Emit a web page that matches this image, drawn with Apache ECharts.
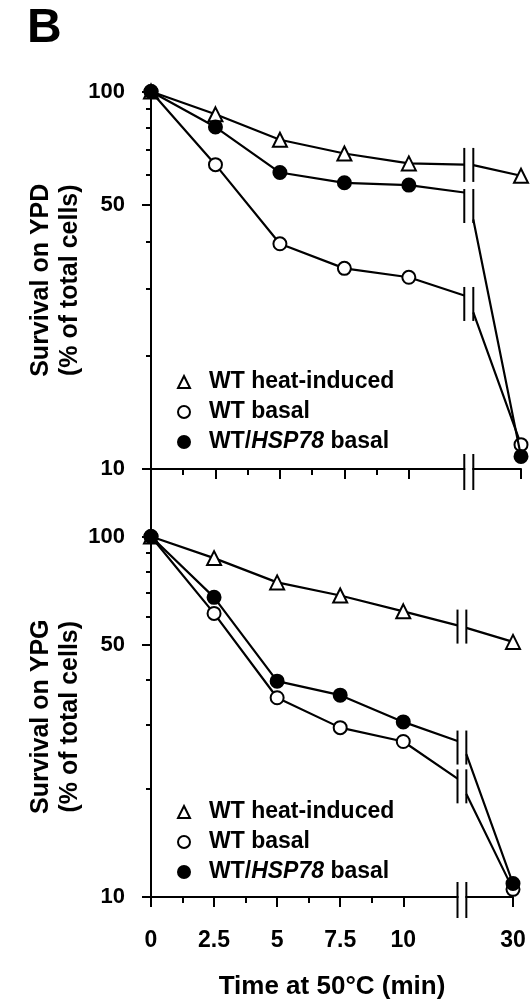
<!DOCTYPE html>
<html>
<head>
<meta charset="utf-8">
<script src="https://cdn.jsdelivr.net/npm/echarts@6/dist/echarts.min.js"></script>
<style>
  html, body { margin: 0; padding: 0; background: #fff; }
  #chart { width: 530px; height: 1006px; }
</style>
</head>
<body>
<div id="chart"></div>
<script>
// x ticks: real minutes and where they sit on the (broken) axis
const timeLabels = ["0", "2.5", "5", "7.5", "10", "30"];
const timePos = [0, 2.5, 5, 7.5, 10, 14.35];
const minorTimePos = [1.25, 3.75, 6.25, 8.75];
const breakLeft = 12.15;
const breakRight = 12.5;

const yLabelValues = [10, 50, 100];
const yMinorValues = [20, 30, 40, 60, 70, 80, 90];

const seriesNames = ["WT heat-induced", "WT basal", "WT/HSP78 basal"];

// survival (%) at 0, 2.5, 5, 7.5, 10, 30 min, plus line ends either side of the break
const ypdHeat = [100, 87, 74.5, 68.5, 64.5, 59.8];
const ypdHeatBreak = [64, 63.8];
const ypdBasal = [100, 64, 39.5, 34, 32.2, 11.6];
const ypdBasalBreak = [28.8, 26];
const ypdHsp = [100, 80.5, 61, 57.3, 56.5, 10.8];
const ypdHspBreak = [54, 45.8];

const ypgHeat = [100, 87.1, 74.6, 68.6, 62.0, 51.0];
const ypgHeatBreak = [56.7, 55.8];
const ypgBasal = [100, 61.2, 35.7, 29.5, 27.0, 10.5];
const ypgBasalBreak = [21.3, 19.3];
const ypgHsp = [100, 67.8, 39.7, 36.3, 30.6, 10.9];
const ypgHspBreak = [27.1, 24.9];

const FONT = "'Liberation Sans', Arial, sans-serif";

function lineData(vals, brk) {
  const out = [];
  for (let i = 0; i < 5; i++) out.push([timePos[i], vals[i]]);
  out.push({ value: [breakLeft, brk[0]], symbol: "none" });
  out.push([(breakLeft + breakRight) / 2, "-"]);
  out.push({ value: [breakRight, brk[1]], symbol: "none" });
  out.push([timePos[5], vals[5]]);
  return out;
}

const styles = [
  { symbol: "triangle", fill: "#fff", size: 14 },
  { symbol: "circle", fill: "#fff", size: 13 },
  { symbol: "circle", fill: "#000", size: 13 },
];

function makeSeries(gi, sets) {
  const list = sets.map((s, k) => ({
    name: seriesNames[k],
    type: "line",
    xAxisIndex: gi * 2,
    yAxisIndex: gi * 2,
    data: lineData(s[0], s[1]),
    symbol: styles[k].symbol,
    symbolSize: styles[k].size,
    clip: false,
    z: 3 + k,
    lineStyle: { color: "#000", width: 2.2 },
    itemStyle: { color: styles[k].fill, borderColor: "#000", borderWidth: 2 },
    emphasis: { disabled: true },
    animation: false,
  }));
  // break marks "||" for every line plus the x axis
  const breaks = sets.map((s) => [breakLeft, s[1][0], breakRight, s[1][1], 0]);
  breaks.push([breakLeft, 10, breakRight, 10, 1]);
  list.push({
    type: "custom",
    xAxisIndex: gi * 2,
    yAxisIndex: gi * 2,
    encode: { x: [0, 2], y: [1, 3] },
    data: breaks,
    z: 10,
    silent: true,
    animation: false,
    renderItem: function (params, api) {
      const pL = api.coord([api.value(0), api.value(1)]);
      const pR = api.coord([api.value(2), api.value(3)]);
      const isAxis = api.value(4) === 1;
      const cy = (pL[1] + pR[1]) / 2 + (isAxis ? 3 : 0);
      const half = isAxis ? 18 : 17;
      const children = [];
      if (isAxis) {
        children.push({
          type: "rect",
          shape: { x: pL[0] + 1, y: cy - 8, width: pR[0] - pL[0] - 2, height: 10 },
          style: { fill: "#fff" },
        });
      }
      [pL[0], pR[0]].forEach((x) => {
        children.push({
          type: "line",
          shape: { x1: x, y1: cy - half, x2: x, y2: cy + half },
          style: { stroke: "#000", lineWidth: 2 },
        });
      });
      return { type: "group", children: children };
    },
  });
  return list;
}

function xAxes(gi, withLabels) {
  return [
    {
      type: "value",
      gridIndex: gi,
      position: "bottom",
      min: 0,
      max: timePos[5],
      axisLine: { lineStyle: { color: "#000", width: 2 } },
      axisTick: { customValues: timePos, length: 10, lineStyle: { color: "#000", width: 2 } },
      axisLabel: {
        show: withLabels,
        customValues: timePos,
        margin: 32,
        color: "#000",
        fontFamily: FONT,
        fontWeight: "bold",
        fontSize: 23,
        formatter: (v) => {
          const i = timePos.findIndex((p) => Math.abs(p - v) < 1e-6);
          return i >= 0 ? timeLabels[i] : "";
        },
      },
      splitLine: { show: false },
      name: withLabels ? "Time at 50°C (min)" : "",
      nameLocation: "middle",
      nameGap: 77,
      nameMoveOverlap: false,
      nameTextStyle: { color: "#000", fontFamily: FONT, fontWeight: "bold", fontSize: 26 },
    },
    {
      type: "value",
      gridIndex: gi,
      position: "bottom",
      min: 0,
      max: timePos[5],
      axisLine: { show: false },
      axisTick: { customValues: minorTimePos, length: 6, lineStyle: { color: "#000", width: 2 } },
      axisLabel: { show: false },
      splitLine: { show: false },
    },
  ];
}

function yAxes(gi, title) {
  return [
    {
      type: "log",
      logBase: 10,
      gridIndex: gi,
      position: "left",
      min: 10,
      max: 100,
      axisLine: { show: true, lineStyle: { color: "#000", width: 2 } },
      axisTick: { show: true, customValues: yLabelValues, length: 9, lineStyle: { color: "#000", width: 2 } },
      axisLabel: {
        customValues: yLabelValues,
        margin: 26,
        color: "#000",
        fontFamily: FONT,
        fontWeight: "bold",
        fontSize: 22,
        formatter: (v) => String(Math.round(v)),
      },
      splitLine: { show: false },
      name: title + "\n(% of total cells)",
      nameLocation: "middle",
      nameGap: 66,
      nameMoveOverlap: false,
      nameTextStyle: { color: "#000", fontFamily: FONT, fontWeight: "bold", fontSize: 25, lineHeight: 29 },
    },
    {
      type: "log",
      logBase: 10,
      gridIndex: gi,
      position: "left",
      min: 10,
      max: 100,
      axisLine: { show: false },
      axisTick: { show: true, customValues: yMinorValues, length: 5, lineStyle: { color: "#000", width: 2 } },
      axisLabel: { show: false },
      splitLine: { show: false },
    },
  ];
}

function legend(top) {
  return {
    orient: "vertical",
    left: 172,
    top: top,
    itemWidth: 12,
    itemHeight: 12,
    itemGap: 7,
    selectedMode: false,
    textStyle: {
      color: "#000",
      fontFamily: FONT,
      fontWeight: "bold",
      fontSize: 23,
      lineHeight: 23,
      padding: [0, 0, 0, 14],
      rich: {
        i: { fontFamily: FONT, fontWeight: "bold", fontStyle: "italic", fontSize: 23, lineHeight: 23 },
      },
    },
    formatter: (name) => name.replace("HSP78", "{i|HSP78}"),
    data: seriesNames.map((n, k) => ({
      name: n,
      icon: styles[k].symbol,
      itemStyle: { color: styles[k].fill, borderColor: "#000", borderWidth: 2 },
    })),
  };
}

const chart = echarts.init(document.getElementById("chart"), null, { renderer: "canvas" });

chart.setOption({
  backgroundColor: "#fff",
  animation: false,
  title: {
    text: "B",
    left: 22,
    top: 0,
    textStyle: { color: "#000", fontFamily: FONT, fontWeight: "bold", fontSize: 48 },
  },
  grid: [
    { left: 151, right: 9, top: 91.5, height: 377.5 },
    { left: 151, right: 17, top: 536.5, height: 360.5 },
  ],
  legend: [legend(365.5), legend(795.5)],
  xAxis: xAxes(0, false).concat(xAxes(1, true)),
  yAxis: yAxes(0, "Survival on YPD").concat(yAxes(1, "Survival on YPG")),
  series: makeSeries(0, [
    [ypdHeat, ypdHeatBreak],
    [ypdBasal, ypdBasalBreak],
    [ypdHsp, ypdHspBreak],
  ]).concat(
    makeSeries(1, [
      [ypgHeat, ypgHeatBreak],
      [ypgBasal, ypgBasalBreak],
      [ypgHsp, ypgHspBreak],
    ])
  ),
});

// the left axis runs on between the two panels
const pTop = chart.convertToPixel({ xAxisIndex: 0, yAxisIndex: 0 }, [0, 10]);
const pBot = chart.convertToPixel({ xAxisIndex: 2, yAxisIndex: 2 }, [0, 100]);
chart.setOption({
  graphic: [
    {
      type: "line",
      shape: { x1: pTop[0], y1: pTop[1], x2: pBot[0], y2: pBot[1] },
      style: { stroke: "#000", lineWidth: 2 },
      silent: true,
    },
  ],
});
</script>
</body>
</html>
